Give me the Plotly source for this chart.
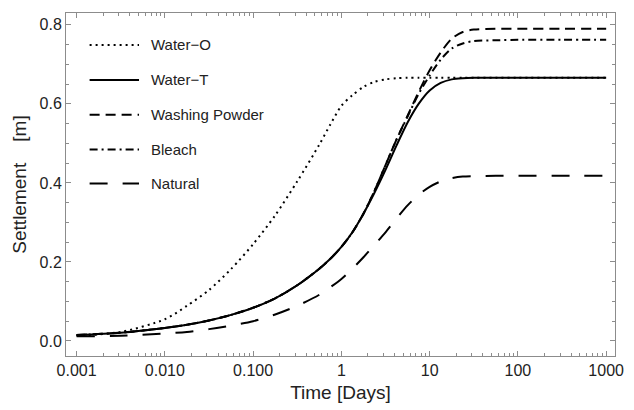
import plotly.graph_objects as go

# Time in days (log-spaced sample points)
log_time = [-3, -2.5, -2, -1.75, -1.5, -1.25, -1, -0.75, -0.5, -0.25, -0.125, 0,
            0.125, 0.25, 0.375, 0.5, 0.625, 0.75, 0.875, 1, 1.125, 1.25, 1.375, 1.5,
            1.75, 2, 2.5, 3]
time_days = [10 ** v for v in log_time]

water_o = [0.013, 0.023, 0.055, 0.089, 0.129, 0.182, 0.245, 0.318, 0.404, 0.497, 0.548, 0.595,
           0.622, 0.643, 0.656, 0.662, 0.665, 0.666, 0.666, 0.666, 0.666, 0.666, 0.666, 0.666,
           0.666, 0.666, 0.666, 0.666]
water_t = [0.015, 0.021, 0.033, 0.041, 0.052, 0.066, 0.084, 0.108, 0.141, 0.183, 0.208, 0.238,
           0.275, 0.322, 0.375, 0.433, 0.495, 0.553, 0.600, 0.634, 0.653, 0.662, 0.665, 0.666,
           0.666, 0.666, 0.666, 0.666]
washing_powder = [0.015, 0.021, 0.033, 0.041, 0.052, 0.066, 0.084, 0.108, 0.141, 0.183, 0.208, 0.238,
                  0.275, 0.322, 0.380, 0.445, 0.510, 0.570, 0.630, 0.685, 0.730, 0.765, 0.782, 0.788,
                  0.790, 0.790, 0.790, 0.790]
bleach = [0.015, 0.021, 0.033, 0.041, 0.052, 0.066, 0.084, 0.108, 0.141, 0.183, 0.208, 0.238,
          0.275, 0.322, 0.380, 0.445, 0.510, 0.568, 0.625, 0.672, 0.712, 0.740, 0.753, 0.759,
          0.761, 0.762, 0.762, 0.762]
natural = [0.012, 0.013, 0.019, 0.023, 0.030, 0.039, 0.050, 0.067, 0.089, 0.117, 0.136, 0.157,
           0.183, 0.212, 0.243, 0.275, 0.310, 0.343, 0.370, 0.390, 0.404, 0.412, 0.416, 0.417,
           0.418, 0.418, 0.418, 0.418]

series_names = ["Water\u2212O", "Water\u2212T", "Washing Powder", "Bleach", "Natural"]
series_values = [water_o, water_t, washing_powder, bleach, natural]
series_dash = ["2px,4px", "solid", "10px,6px", "8px,4px,2px,4px", "18px,15px"]

x_tickvals = [0.001, 0.01, 0.1, 1, 10, 100, 1000]
x_ticktext = ["0.001", "0.010", "0.100", "1", "10", "100", "1000"]
x_minor = [m * 10 ** e for e in range(-3, 3) for m in range(2, 10)]

FONT = "Liberation Sans, Arial, sans-serif"
FRAME = "#8c8c8c"

fig = go.Figure()
for name, vals, dash in zip(series_names, series_values, series_dash):
    fig.add_trace(go.Scatter(
        x=time_days, y=vals, mode="lines", name=name,
        line=dict(color="black", width=2, dash=dash, shape="spline", smoothing=0.8),
        showlegend=False,
    ))

# custom legend (samples + labels) in paper coordinates
leg_y = [0.907, 0.805, 0.703, 0.602, 0.503]
shapes = []
annotations = []
for name, dash, yy in zip(series_names, series_dash, leg_y):
    shapes.append(dict(type="line", xref="paper", yref="paper",
                       x0=0.043, x1=0.133, y0=yy, y1=yy,
                       line=dict(color="black", width=2, dash=dash)))
    annotations.append(dict(xref="paper", yref="paper", x=0.152, y=yy,
                            text=name, showarrow=False, xanchor="left", yanchor="middle",
                            font=dict(family=FONT, size=15, color="#222")))

fig.update_layout(
    width=634, height=410,
    margin=dict(l=66, r=10, t=13, b=53),
    paper_bgcolor="white", plot_bgcolor="white",
    font=dict(family=FONT, size=16, color="#222"),
    shapes=shapes, annotations=annotations,
    xaxis=dict(
        type="log", range=[-3.12, 3.10],
        tickvals=x_tickvals, ticktext=x_ticktext,
        ticks="inside", ticklen=5, tickcolor=FRAME, tickwidth=1,
        minor=dict(tickvals=x_minor, ticks="inside", ticklen=3, tickcolor=FRAME),
        showline=True, linecolor=FRAME, linewidth=1, mirror="ticks",
        showgrid=False, zeroline=False,
        title=dict(text="Time [Days]", font=dict(size=19), standoff=7),
        tickfont=dict(size=16),
    ),
    yaxis=dict(
        range=[-0.038, 0.83],
        tickvals=[0.0, 0.2, 0.4, 0.6, 0.8], tickformat=".1f",
        ticks="inside", ticklen=5, tickcolor=FRAME, tickwidth=1,
        minor=dict(dtick=0.05, ticks="inside", ticklen=3, tickcolor=FRAME),
        showline=True, linecolor=FRAME, linewidth=1, mirror="ticks",
        showgrid=False, zeroline=False,
        title=dict(text="Settlement\u00a0\u00a0\u00a0\u00a0[m]", font=dict(size=19), standoff=7),
        tickfont=dict(size=16),
    ),
)

fig.write_html("out.html")
